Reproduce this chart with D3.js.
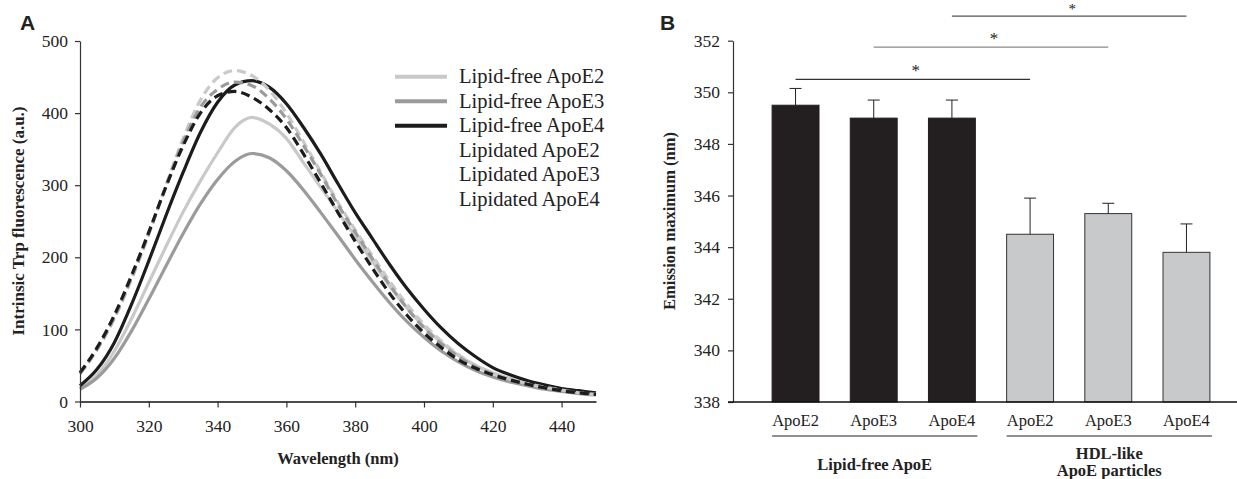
<!DOCTYPE html>
<html>
<head>
<meta charset="utf-8">
<script src="https://cdn.jsdelivr.net/npm/d3@7"></script>
<style>
  html, body { margin: 0; padding: 0; background: #fff; }
  svg { display: block; }
  text { font-family: "Liberation Serif", "Times New Roman", serif; fill: #222; }
</style>
</head>
<body>
<svg id="chart" width="1237" height="479"></svg>
<script>
// ---------- Panel A data ----------
const wavelengths = [300,305,310,315,320,325,330,335,340,345,350,355,360,365,370,375,380,385,390,395,400,405,410,415,420,425,430,435,440,445,450];
const lipidFreeE2 = [18,37,70,115,165,215,263,306,345,380,394,385,365,331,297,263,229,194,160,130,104,82,64,50,40,32,25,20,16,12,10];
const lipidFreeE3 = [17,33,60,98,142,188,233,274,308,333,344,338,320,293,262,230,197,166,137,111,89,70,55,43,34,27,22,17,14,11,9];
const lipidFreeE4 = [22,45,82,135,195,258,318,373,415,439,445,436,413,380,343,302,262,226,190,157,128,102,80,62,47,37,29,23,18,15,12];
const lipidatedE2 = [38,72,115,170,232,300,365,418,449,459,452,432,400,360,318,276,238,202,167,135,107,84,65,50,39,31,25,20,16,12,10];
const lipidatedE3 = [39,73,117,172,233,299,360,408,433,443,438,420,392,355,315,273,235,198,162,130,102,80,62,48,38,30,24,19,15,12,10];
const lipidatedE4 = [40,75,120,175,235,298,355,400,424,430,422,405,380,343,303,262,222,185,150,120,95,75,58,46,37,30,24,19,15,12,10];
const seriesNames = ["Lipid-free ApoE2","Lipid-free ApoE3","Lipid-free ApoE4","Lipidated ApoE2","Lipidated ApoE3","Lipidated ApoE4"];
const xTicksA = [300,320,340,360,380,400,420,440];
const yTicksA = [0,100,200,300,400,500];

// ---------- Panel B data ----------
const barLabels = ["ApoE2","ApoE3","ApoE4","ApoE2","ApoE3","ApoE4"];
const barValues = [349.5, 349.0, 349.0, 344.5, 345.3, 343.8];
const barErrors = [0.65, 0.7, 0.7, 1.4, 0.4, 1.1];
const groupNames = [["Lipid-free ApoE"], ["HDL-like", "ApoE particles"]];
const sigPairs = [[0,3],[1,4],[2,5]];
const sigLevels = [350.5, 351.75, 352.95];
const yTicksB = [338,340,342,344,346,348,350,352];

const svg = d3.select("#chart");

// ================= Panel A =================
const styles = [
  {color:"#c9c9c9", dash:null},
  {color:"#9b9b9b", dash:null},
  {color:"#1c1c1c", dash:null},
  {color:"#c9c9c9", dash:"9,5"},
  {color:"#9b9b9b", dash:"9,5"},
  {color:"#1c1c1c", dash:"9,5"}
];
const seriesData = [lipidFreeE2, lipidFreeE3, lipidFreeE4, lipidatedE2, lipidatedE3, lipidatedE4];

const xA = d3.scaleLinear().domain([300,450]).range([80,596]);
const yA = d3.scaleLinear().domain([0,500]).range([401.5,41]);

const gA = svg.append("g");

const line = d3.line()
  .x((d,i) => xA(wavelengths[i]))
  .y(d => yA(d))
  .curve(d3.curveMonotoneX);

seriesData.forEach((s, k) => {
  gA.append("path")
    .attr("d", line(s))
    .attr("fill","none")
    .attr("stroke", styles[k].color)
    .attr("stroke-width", 3.2)
    .attr("stroke-dasharray", styles[k].dash)
    .attr("stroke-linejoin","round");
});

// axes A
const xAxisA = gA.append("g")
  .attr("transform", `translate(0,${yA(0)})`)
  .call(d3.axisBottom(xA).tickValues(xTicksA).tickSize(6).tickPadding(12).tickSizeOuter(0));
const yAxisA = gA.append("g")
  .attr("transform", `translate(${xA(300)},0)`)
  .call(d3.axisLeft(yA).tickValues(yTicksA).tickSize(5).tickPadding(7).tickSizeOuter(0));
[xAxisA, yAxisA].forEach(ax => {
  ax.selectAll("text").style("font-size","17.5px").style("font-family","'Liberation Serif', serif").attr("fill","#222");
  ax.selectAll("line").attr("stroke","#333").attr("stroke-width",1.2);
  ax.select(".domain").attr("stroke","#333").attr("stroke-width",1.2);
});
xAxisA.select(".domain").attr("stroke","#111").attr("stroke-width",1.5);

gA.append("text")
  .attr("x", (xA(300)+xA(450))/2)
  .attr("y", 464)
  .attr("text-anchor","middle")
  .style("font-size","16.5px").style("font-weight","bold")
  .text("Wavelength (nm)");

gA.append("text")
  .attr("transform", `translate(24,221) rotate(-90)`)
  .attr("text-anchor","middle")
  .style("font-size","17px").style("font-weight","bold")
  .text("Intrinsic Trp fluorescence (a.u.)");

// legend
const legend = gA.append("g");
seriesNames.forEach((name, k) => {
  const cy = 76.7 + k*24.5;
  if (k < 3) {
    legend.append("line")
      .attr("x1",395).attr("x2",447).attr("y1",cy).attr("y2",cy)
      .attr("stroke", styles[k].color).attr("stroke-width",4);
  }
  legend.append("text")
    .attr("x",459).attr("y",cy+6.5)
    .style("font-size","20.5px")
    .text(name);
});

svg.append("text").attr("x",20).attr("y",30)
  .style("font-family","'Liberation Sans', Arial, sans-serif")
  .style("font-weight","bold").style("font-size","21px").attr("fill","#111")
  .text("A");

// ================= Panel B =================
const gB = svg.append("g");
const xB = d3.scaleBand().domain(d3.range(barValues.length)).range([733,1249]).paddingInner(0.4).paddingOuter(0.5);
const yB = d3.scaleLinear().domain([338,352]).range([402,40.7]);

// bars
gB.selectAll("rect.bar").data(barValues).join("rect")
  .attr("class","bar")
  .attr("x",(d,i)=>xB(i))
  .attr("width",xB.bandwidth())
  .attr("y",d=>yB(d))
  .attr("height",d=>yB(338)-yB(d))
  .attr("fill",(d,i)=> i<3 ? "#231f20" : "#c8c9cb")
  .attr("stroke",(d,i)=> i<3 ? "#231f20" : "#333")
  .attr("stroke-width",1);

// error bars (upper only)
barValues.forEach((v,i)=>{
  const cx = xB(i)+xB.bandwidth()/2;
  gB.append("line").attr("x1",cx).attr("x2",cx)
    .attr("y1",yB(v)).attr("y2",yB(v+barErrors[i]))
    .attr("stroke","#222").attr("stroke-width",1);
  gB.append("line").attr("x1",cx-6).attr("x2",cx+6)
    .attr("y1",yB(v+barErrors[i])).attr("y2",yB(v+barErrors[i]))
    .attr("stroke","#222").attr("stroke-width",1);
});

// axes B
const yAxisB = gB.append("g")
  .attr("transform",`translate(733,0)`)
  .call(d3.axisLeft(yB).tickValues(yTicksB).tickSize(5).tickPadding(8).tickSizeOuter(0).tickFormat(d3.format("d")));
yAxisB.selectAll("text").style("font-size","17.5px").style("font-family","'Liberation Serif', serif").attr("fill","#222");
yAxisB.selectAll("line").attr("stroke","#333").attr("stroke-width",1.2);
yAxisB.select(".domain").attr("stroke","#333").attr("stroke-width",1.2);

const xAxisB = gB.append("g")
  .attr("transform",`translate(0,${yB(338)})`)
  .call(d3.axisBottom(xB).tickSize(0).tickPadding(12).tickFormat(i=>barLabels[i]));
xAxisB.select(".domain").attr("d","M728,0H1237").attr("stroke","#111").attr("stroke-width",1.5);
xAxisB.selectAll("text").style("font-size","16.5px").style("font-family","'Liberation Serif', serif").attr("fill","#222");

// group underlines and labels
[[0,2],[3,5]].forEach((rng,g)=>{
  const x1 = xB(rng[0]);
  const x2 = xB(rng[1])+xB.bandwidth()+2;
  gB.append("line").attr("x1",x1).attr("x2",x2).attr("y1",436).attr("y2",436)
    .attr("stroke","#222").attr("stroke-width",1.2);
  const cx = (x1+x2)/2;
  const lines = groupNames[g];
  lines.forEach((t,j)=>{
    const baseY = lines.length===1 ? 470 : 459 + j*17;
    gB.append("text").attr("x",cx).attr("y",baseY)
      .attr("text-anchor","middle")
      .style("font-size","16.5px").style("font-weight","bold")
      .text(t);
  });
});

// significance lines
const sigColors = ["#333","#8a8a8a","#555"];
sigPairs.forEach((p,k)=>{
  const x1 = xB(p[0])+xB.bandwidth()/2;
  const x2 = xB(p[1])+xB.bandwidth()/2;
  const yy = yB(sigLevels[k]);
  gB.append("line").attr("x1",x1).attr("x2",x2).attr("y1",yy).attr("y2",yy)
    .attr("stroke",sigColors[k]).attr("stroke-width",1.2);
  gB.append("text").attr("x",(x1+x2)/2+3).attr("y",Math.max(yy-3, 14))
    .attr("text-anchor","middle")
    .style("font-size", k===2 ? "15px" : "17px")
    .text("*");
});

gB.append("text")
  .attr("transform",`translate(675,221) rotate(-90)`)
  .attr("text-anchor","middle")
  .style("font-size","16.5px").style("font-weight","bold")
  .text("Emission maximum (nm)");

svg.append("text").attr("x",660).attr("y",30)
  .style("font-family","'Liberation Sans', Arial, sans-serif")
  .style("font-weight","bold").style("font-size","21px").attr("fill","#111")
  .text("B");
</script>
</body>
</html>
